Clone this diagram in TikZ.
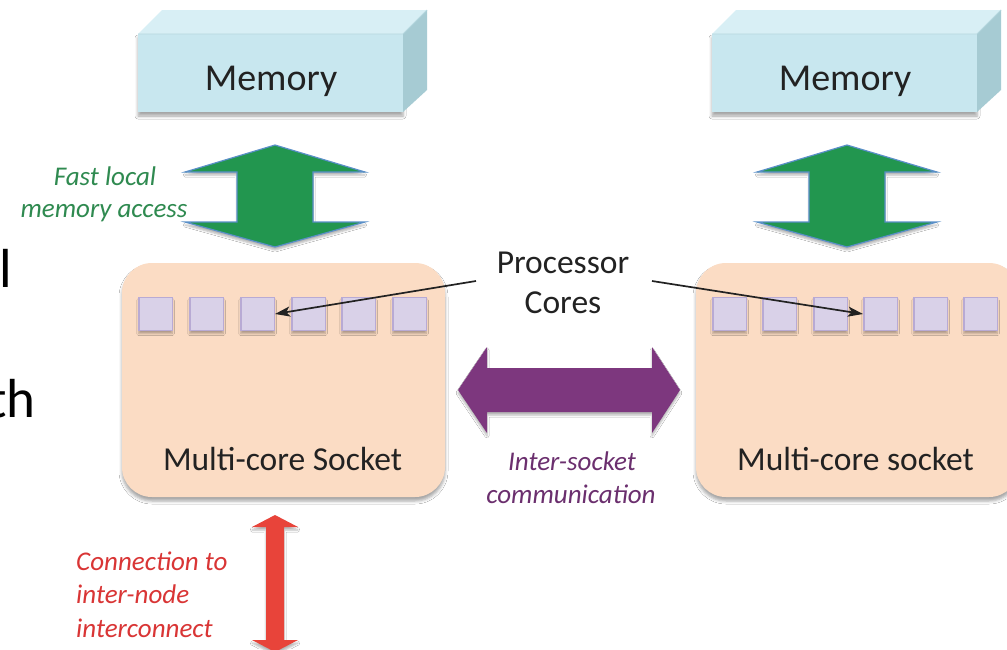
\documentclass[tikz,border=0pt]{standalone}
\usepackage{fontspec}
\setmainfont{Carlito}
\usetikzlibrary{shadows.blur,arrows.meta}
\definecolor{memfront}{HTML}{C8E7EF}
\definecolor{memtop}{HTML}{D8EFF5}
\definecolor{memside}{HTML}{A6CBD3}
\definecolor{memedge}{HTML}{B4D6DE}
\definecolor{greenarrow}{HTML}{22964F}
\definecolor{greenedge}{HTML}{5A8FC8}
\definecolor{socketfill}{HTML}{FBDCC4}
\definecolor{corefill}{HTML}{D9D1E8}
\definecolor{coreedge}{HTML}{B8AAD4}
\definecolor{purplearrow}{HTML}{7D377E}
\definecolor{redarrow}{HTML}{E8443A}
\definecolor{greentext}{HTML}{2F8A50}
\definecolor{purpletext}{HTML}{6B2F6E}
\definecolor{redtext}{HTML}{D93535}
\definecolor{darktext}{HTML}{222222}
\begin{document}
\begin{tikzpicture}[x=1pt,y=-1pt,
  softshadow/.style={blur shadow={shadow xshift=0pt,shadow yshift=-4pt,shadow blur radius=3pt,shadow opacity=35}},
  smallshadow/.style={blur shadow={shadow xshift=0pt,shadow yshift=-3pt,shadow blur radius=2pt,shadow opacity=30}},
  socketbox/.style={fill=socketfill,rounded corners=30pt,minimum width=323pt,minimum height=234pt,inner sep=0pt,softshadow},
  corebox/.style={fill=corefill,draw=coreedge,line width=1.5pt,minimum width=33.5pt,minimum height=33pt,inner sep=0pt,smallshadow},
  bigtext/.style={text=darktext,inner sep=0pt,anchor=base,font=\fontsize{38}{45}\selectfont},
  socktext/.style={text=darktext,inner sep=0pt,anchor=base,font=\fontsize{33.5}{40}\selectfont},
  labeltext/.style={inner sep=0pt,anchor=base,font=\fontsize{27}{33}\selectfont\itshape},
  leader/.style={line width=1.7pt,draw=darktext,-{Stealth[length=15pt,width=10pt,inset=3.5pt]}},
  slidetext/.style={text=black,inner sep=0pt,font=\fontsize{55}{66}\selectfont}
]
\useasboundingbox (0,0) rectangle (1007,649);
\fill[white] (0,0) rectangle (1007,649);

% fragments of slide text at the left edge
\node[slidetext,anchor=base west] (fragl) at (-1,287) {l};
\node[slidetext,anchor=base east] (fragth) at (36,417) {th};

% memory boxes
\foreach \dx/\nm in {0/memL,574/memR}{
  \begin{scope}[xshift=\dx]
    \fill[memfront,softshadow] (138,34) rectangle (403,112);
    \fill[memtop] (138,34) -- (162,10) -- (427,10) -- (403,34) -- cycle;
    \fill[memside] (403,34) -- (427,10) -- (427,90) -- (403,112) -- cycle;
    \draw[memedge,line width=0.8pt] (138,34) -- (403,34) -- (427,10);
  \end{scope}
  \node[bigtext] (\nm) at (271+\dx,90) {Memory};
}

% green memory-access arrows
\foreach \cx in {275,847}{
  \fill[greenarrow,draw=greenedge,line width=1.2pt,smallshadow]
    (\cx,145) -- (\cx+90,172) -- (\cx+38,172) -- (\cx+38,222) -- (\cx+90,222)
    -- (\cx,247) -- (\cx-90,222) -- (\cx-38,222) -- (\cx-38,172) -- (\cx-90,172) -- cycle;
}
\node[labeltext,text=greentext] (fast1) at (105,185) {Fast local};
\node[labeltext,text=greentext] (fast2) at (104,217) {memory access};

% sockets
\node[socketbox] (sockL) at (283.5,380) {};
\node[socketbox] (sockR) at (857.5,380) {};
\node[socktext] (sockLtxt) at (282.5,470) {Multi-core Socket};
\node[socktext] (sockRtxt) at (855.5,470) {Multi-core socket};

% cores
\foreach \x [count=\n] in {138,189,240,291,341,392}{
  \node[corebox] (L\n) at (\x+17.5,314) {};
}
\foreach \x [count=\n] in {712,762,813,863,913,963}{
  \node[corebox] (R\n) at (\x+17.5,314) {};
}

% processor cores label
\node[socktext] (proc1) at (563,273) {Processor};
\node[socktext] (proc2) at (563,313) {Cores};
\coordinate (pcl) at (476,281);
\coordinate (pcr) at (652,281);
\draw[leader] (pcl) -- (L3.east);
\draw[leader] (pcr) -- (R4.west);

% inter-socket arrow
\fill[purplearrow,smallshadow] (458,390) -- (487,347) -- (487,368) -- (652,368) -- (652,347)
  -- (680,390) -- (652,433) -- (652,412) -- (487,412) -- (487,433) -- cycle;
\node[labeltext,text=purpletext] (inter1) at (572,470) {Inter-socket};
\node[labeltext,text=purpletext] (inter2) at (571,503) {communication};

% inter-node arrow
\fill[redarrow,smallshadow] (275,515) -- (298,527) -- (284,527) -- (284,640) -- (298,640)
  -- (275,652) -- (252,640) -- (266,640) -- (266,527) -- (252,527) -- cycle;
\node[labeltext,text=redtext,anchor=base west] (conn1) at (76,570) {Connection to};
\node[labeltext,text=redtext,anchor=base west] (conn2) at (76,603) {inter-node};
\node[labeltext,text=redtext,anchor=base west] (conn3) at (76,637) {interconnect};
\end{tikzpicture}
\end{document}
